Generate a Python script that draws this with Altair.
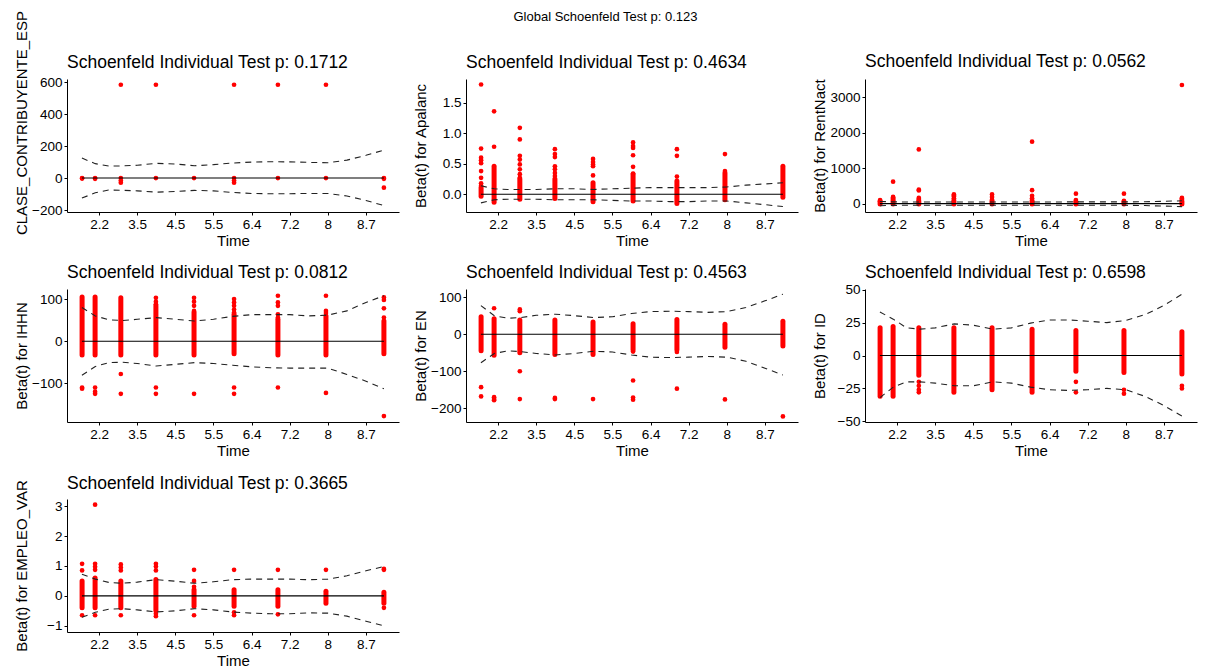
import json
import altair as alt
import pandas as pd

# ---- shared axis data -------------------------------------------------
TIME_POS = [0.0554, 0.0895, 0.157, 0.249, 0.349, 0.454, 0.569, 0.695, 0.847]
TICK_POS = [0.1, 0.2, 0.3, 0.4, 0.5, 0.6, 0.7, 0.8]
TICK_LABELS = ["2.2", "3.5", "4.5", "5.5", "6.4", "7.2", "8", "8.7"]
CURVE_T = [0.055, 0.09, 0.125, 0.16, 0.2, 0.25, 0.3, 0.35, 0.4, 0.45,
           0.5, 0.55, 0.6, 0.65, 0.7, 0.75, 0.8, 0.847]
FIT_LINE = [0, 0, 0, 0, 0, 0, 0, 0, 0, 0, 0, 0, 0, 0, 0, 0, 0, 0]

GLOBAL_TITLE = "Global Schoenfeld Test p: 0.123"

# ---- CLASE_CONTRIBUYENTE_ESP -----------------------------------------
CLASE_P = "0.1712"
CLASE_POINTS = {1: [0, -3], 2: [0, -5], 3: [583, 0, -15, -29], 4: [583, 0],
                5: [0], 6: [583, 0, -15, -29], 7: [583, 0], 8: [583, 0],
                9: [0, -5, -60]}
CLASE_BANDS = []
CLASE_UPPER = [125, 90, 75, 76, 80, 92, 88, 77, 84, 94, 100, 102, 101, 98, 96, 112, 142, 175]
CLASE_LOWER = [-125, -92, -75, -76, -80, -88, -84, -77, -80, -90, -96, -98, -98, -96, -96, -112, -140, -172]

# ---- Apalanc ----------------------------------------------------------
APAL_P = "0.4634"
APAL_POINTS = {1: [1.80, 0.75, 0.60, 0.56, 0.51, 0.38, 0.27, 0.18, 0.14],
               2: [1.36, 0.78],
               3: [1.09, 0.90, 0.63, 0.57, 0.49, 0.41, 0.33, 0.27],
               4: [0.74, 0.66, 0.61, 0.46, 0.41, 0.35, 0.30],
               5: [0.58, 0.53, 0.49, 0.46, 0.31],
               6: [0.85, 0.79, 0.76, 0.64, 0.45, 0.34],
               7: [0.74, 0.63, 0.29],
               8: [0.66, 0.38],
               9: []}
APAL_BANDS = [(1, -0.03, 0.11), (2, -0.13, 0.46), (3, -0.08, 0.25), (4, -0.07, 0.25),
              (5, -0.12, 0.19), (6, -0.11, 0.33), (7, -0.15, 0.22), (8, -0.09, 0.35),
              (9, -0.05, 0.46)]
APAL_UPPER = [0.14, 0.09, 0.08, 0.08, 0.08, 0.09, 0.09, 0.08, 0.09, 0.10, 0.11, 0.11, 0.11, 0.11, 0.12, 0.15, 0.17, 0.19]
APAL_LOWER = [-0.14, -0.09, -0.08, -0.08, -0.08, -0.09, -0.09, -0.09, -0.10, -0.11, -0.11, -0.12, -0.12, -0.11, -0.11, -0.14, -0.17, -0.20]

# ---- RentNact ---------------------------------------------------------
RENT_P = "0.0562"
RENT_POINTS = {1: [100, 80, 60], 2: [620, 190, 170, 150, 120, 90],
               3: [1530, 395, 370, 160, 130, 100, 80], 4: [260, 230, 200, 150, 110, 80],
               5: [260, 190, 110, 80], 6: [1750, 380, 220, 150, 100],
               7: [280, 100, 70], 8: [280, 80, 60], 9: [3350, 160, 140, 110]}
RENT_BANDS = [(1, -10, 50), (2, -10, 60), (3, -10, 50), (4, -10, 50), (5, -10, 50),
              (6, -10, 60), (7, -10, 40), (8, -10, 40), (9, -10, 60)]
RENT_UPPER = [60, 50, 45, 45, 45, 45, 45, 45, 45, 45, 45, 48, 48, 48, 48, 52, 65, 80]
RENT_LOWER = [-60, -50, -45, -45, -45, -45, -45, -45, -45, -45, -45, -48, -48, -48, -48, -55, -70, -85]

# ---- IHHN -------------------------------------------------------------
IHHN_P = "0.0812"
IHHN_POINTS = {1: [-110, -113], 2: [-110, -120, -125], 3: [-78, -125],
               4: [103, 94, 88, -110, -125], 5: [103, 94, 84, 72, -125],
               6: [100, 92, 84, 75, 68, -110, -125], 7: [108, 92, 84, 64, 56, -110],
               8: [108, 72, 67, -123], 9: [104, 98, 78, 56, -178]}
IHHN_BANDS = [(1, -33, 105), (2, -33, 105), (3, -33, 103), (4, -33, 84), (5, -33, 68),
              (6, -30, 64), (7, -33, 52), (8, -33, 60), (9, -30, 48)]
IHHN_UPPER = [80, 60, 51, 49, 52, 56, 52, 48, 52, 59, 63, 63, 63, 60, 62, 72, 92, 108]
IHHN_LOWER = [-81, -60, -51, -50, -53, -59, -55, -51, -53, -57, -61, -63, -64, -64, -64, -79, -95, -113]

# ---- EN ---------------------------------------------------------------
EN_P = "0.4563"
EN_POINTS = {1: [-143, -168], 2: [70, -170, -175, -178], 3: [62, 67, -100, -175],
             4: [-172, -175], 5: [-175], 6: [-47, -125, -171, -177],
             7: [-48, -147], 8: [-176], 9: [-222]}
EN_BANDS = [(1, -45, 47), (2, -57, 42), (3, -50, 38), (4, -55, 38), (5, -55, 33),
            (6, -42, 28), (7, -42, 40), (8, -35, 27), (9, -32, 35)]
EN_UPPER = [77, 50, 43, 45, 51, 54, 50, 45, 47, 56, 61, 62, 61, 59, 61, 72, 90, 108]
EN_LOWER = [-77, -52, -45, -47, -52, -56, -52, -46, -48, -56, -62, -63, -62, -60, -62, -73, -92, -110]

# ---- ID ---------------------------------------------------------------
ID_P = "0.6598"
ID_POINTS = {1: [], 2: [], 3: [-20, -23, -26, -28], 4: [], 5: [], 6: [],
             7: [-20, -28], 8: [-26, -29], 9: [-23, -25]}
ID_BANDS = [(1, -31, 21), (2, -31, 22), (3, -15, 21), (4, -28, 21), (5, -26, 21),
            (6, -28, 20), (7, -12, 19), (8, -13, 19), (9, -14, 18)]
ID_UPPER = [33, 27.6, 21, 20, 21, 24, 23, 20, 21, 24.6, 27, 27, 26, 25, 26.6, 31, 38, 46.5]
ID_LOWER = [-32, -24, -20, -20, -21, -23, -23, -20, -21, -24, -26, -26.5, -26, -25, -26, -31, -38, -46]

# ---- EMPLEO_VAR -------------------------------------------------------
EMP_P = "0.3665"
EMP_POINTS = {1: [1.07, 0.85, -0.65], 2: [3.05, 1.07, 0.97, 0.87, -0.65],
              3: [1.05, 0.95, 0.85, -0.65], 4: [1.07, 0.98, 0.85, -0.6, -0.68],
              5: [0.87, 0.5, 0.3, -0.65], 6: [0.87, -0.55, -0.65], 7: [0.87, -0.62],
              8: [0.87], 9: [0.9, 0.87, -0.4]}
EMP_BANDS = [(1, -0.4, 0.5), (2, -0.4, 0.6), (3, -0.4, 0.5), (4, -0.5, 0.55),
             (5, -0.35, 0.2), (6, -0.35, 0.2), (7, -0.35, 0.2), (8, -0.25, 0.15),
             (9, -0.25, 0.12)]
EMP_UPPER = [0.72, 0.56, 0.45, 0.42, 0.46, 0.54, 0.49, 0.42, 0.47, 0.54, 0.56, 0.56, 0.56, 0.54, 0.56, 0.67, 0.84, 0.98]
EMP_LOWER = [-0.72, -0.55, -0.45, -0.43, -0.47, -0.54, -0.50, -0.43, -0.47, -0.54, -0.58, -0.60, -0.60, -0.57, -0.58, -0.68, -0.85, -1.0]

FONT = "Liberation Sans"
RED = "#FF0000"

xmin, xmax = min(TIME_POS), max(TIME_POS)
pad = (xmax - xmin) * 0.05
XDOM = [xmin - pad, xmax + pad]
LABEL_EXPR = json.dumps(TICK_LABELS) + "[round(datum.value*10)-1]"


def panel(ytitle, pval, points, bands, upper, lower, ydom, yticks, yfmt,
          title_y=None, title_dy=0):
    pts = pd.DataFrame([{"t": TIME_POS[c - 1], "y": v}
                        for c, vs in points.items() for v in vs])
    bnd = pd.DataFrame([{"t": TIME_POS[c - 1], "lo": lo, "hi": hi} for c, lo, hi in bands])
    n = len(CURVE_T)
    fit = pd.DataFrame({"t": CURVE_T, "y": FIT_LINE})
    ci = pd.DataFrame({"t": CURVE_T * 2, "y": upper + lower, "k": ["up"] * n + ["lo"] * n})

    xenc = alt.X("t:Q", scale=alt.Scale(domain=XDOM, nice=False, zero=False),
                 axis=alt.Axis(values=TICK_POS, labelExpr=LABEL_EXPR, title="Time",
                               titlePadding=3))
    yaxis_kw = dict(values=yticks, format=yfmt, title=ytitle,
                    minExtent=30, maxExtent=30, titlePadding=8)
    if title_y is not None:
        yaxis_kw["titleY"] = title_y
    yscale = alt.Scale(domain=ydom, nice=False, zero=False)
    yenc = alt.Y("y:Q", scale=yscale, axis=alt.Axis(**yaxis_kw))

    layers = []
    if bands:
        layers.append(alt.Chart(bnd).mark_rule(color=RED, strokeWidth=5, strokeCap="round").encode(
            x=xenc, y=alt.Y("lo:Q", scale=yscale, axis=alt.Axis(**yaxis_kw)), y2="hi:Q"))
    layers.append(alt.Chart(pts).mark_circle(color=RED, size=22, opacity=1).encode(x=xenc, y=yenc))
    layers.append(alt.Chart(fit).mark_line(color="black", strokeWidth=1.1).encode(x=xenc, y=yenc))
    layers.append(alt.Chart(ci).mark_line(color="#222222", strokeWidth=1.1, strokeDash=[6, 5]).encode(
        x=xenc, y=yenc, detail="k:N"))
    return alt.layer(*layers).properties(
        width=332, height=133,
        title=alt.TitleParams(f"Schoenfeld Individual Test p: {pval}", anchor="start",
                              frame="group", fontSize=17.5, font=FONT, fontWeight="normal",
                              color="black", offset=8, dy=title_dy),
    )


charts = [
    panel("CLASE_CONTRIBUYENTE_ESP", CLASE_P, CLASE_POINTS, CLASE_BANDS, CLASE_UPPER, CLASE_LOWER,
          [-212, 619], [-200, 0, 200, 400, 600], "d", title_y=43.5, title_dy=69),
    panel("Beta(t) for Apalanc", APAL_P, APAL_POINTS, APAL_BANDS, APAL_UPPER, APAL_LOWER,
          [-0.29, 1.89], [0, 0.5, 1.0, 1.5], ".1f"),
    panel("Beta(t) for RentNact", RENT_P, RENT_POINTS, RENT_BANDS, RENT_UPPER, RENT_LOWER,
          [-237, 3520], [0, 1000, 2000, 3000], "d"),
    panel("Beta(t) for IHHN", IHHN_P, IHHN_POINTS, IHHN_BANDS, IHHN_UPPER, IHHN_LOWER,
          [-192, 124], [-100, 0, 100], "d"),
    panel("Beta(t) for EN", EN_P, EN_POINTS, EN_BANDS, EN_UPPER, EN_LOWER,
          [-237, 122], [-200, -100, 0, 100], "d"),
    panel("Beta(t) for ID", ID_P, ID_POINTS, ID_BANDS, ID_UPPER, ID_LOWER,
          [-50.5, 50.5], [-50, -25, 0, 25, 50], "d", title_dy=7),
    panel("Beta(t) for EMPLEO_VAR", EMP_P, EMP_POINTS, EMP_BANDS, EMP_UPPER, EMP_LOWER,
          [-1.21, 3.24], [-1, 0, 1, 2, 3], "d", title_dy=21),
]

chart = alt.concat(
    *charts, columns=3, spacing={"row": 77, "column": 67}, bounds="flush",
    title=alt.TitleParams(GLOBAL_TITLE, anchor="middle", fontSize=13, font=FONT,
                          fontWeight="normal", color="black", offset=0, dy=14),
).properties(
    padding={"left": 13, "top": 10, "right": 5, "bottom": 5},
).configure_view(stroke=None).configure_axis(
    grid=False, domainColor="black", domainWidth=1, tickColor="black", tickSize=3,
    labelFont=FONT, labelFontSize=13.5, labelColor="black", labelPadding=2,
    titleFont=FONT, titleFontSize=15, titleFontWeight="normal", titleColor="black",
)

chart.save("out.html", embed_options={"renderer": "svg", "actions": False})
